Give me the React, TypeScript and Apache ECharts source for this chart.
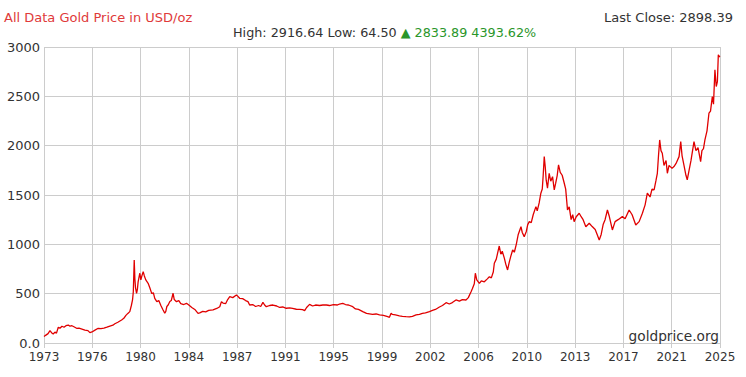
import React, { useEffect, useRef } from "react";
import * as echarts from "echarts";

const TITLE = "All Data Gold Price in USD/oz";
const LAST_CLOSE = "Last Close: 2898.39";
const STATS_PLAIN = "High: 2916.64 Low: 64.50 ";
const STATS_CHANGE = "▲ 2833.89 4393.62%";
const WATERMARK = "goldprice.org";

const X_TICK_LABELS = ["1973", "1976", "1980", "1984", "1987", "1991", "1995", "1999", "2002", "2006", "2010", "2013", "2017", "2021", "2025"];
const X_MIN = 1973;
const X_MAX = 2025;
const Y_MAX = 3000;
const Y_STEP = 500;

const YEARS = [
  1973.0, 1973.15, 1973.31, 1973.46, 1973.58, 1973.71, 1973.84, 1973.96, 1974.1, 1974.23,
  1974.38, 1974.54, 1974.69, 1974.87, 1975.0, 1975.15, 1975.3, 1975.51, 1975.69, 1975.92,
  1976.15, 1976.38, 1976.53, 1976.69, 1976.92, 1977.17, 1977.38, 1977.61, 1977.84, 1978.07,
  1978.3, 1978.45, 1978.68, 1978.97, 1979.14, 1979.3, 1979.45, 1979.6, 1979.72, 1979.81,
  1979.87, 1979.94, 1979.99, 1980.04, 1980.12, 1980.18, 1980.24, 1980.3, 1980.37, 1980.45,
  1980.53, 1980.63, 1980.72, 1980.83, 1981.01, 1981.14, 1981.29, 1981.41, 1981.52, 1981.68,
  1981.83, 1981.99, 1982.14, 1982.29, 1982.37, 1982.45, 1982.55, 1982.68, 1982.79, 1982.93,
  1983.02, 1983.19, 1983.37, 1983.52, 1983.75, 1983.96, 1984.14, 1984.37, 1984.6, 1984.85,
  1984.98, 1985.21, 1985.44, 1985.67, 1986.0, 1986.29, 1986.52, 1986.65, 1986.77, 1986.98,
  1987.13, 1987.29, 1987.52, 1987.8, 1987.9, 1988.05, 1988.28, 1988.51, 1988.69, 1988.82,
  1989.05, 1989.28, 1989.51, 1989.67, 1989.84, 1989.97, 1990.1, 1990.36, 1990.61, 1990.9,
  1991.13, 1991.36, 1991.64, 1991.89, 1992.12, 1992.41, 1992.66, 1992.89, 1993.05, 1993.2,
  1993.43, 1993.66, 1993.89, 1994.2, 1994.45, 1994.73, 1994.96, 1995.27, 1995.57, 1995.73,
  1995.98, 1996.19, 1996.42, 1996.75, 1996.96, 1997.19, 1997.52, 1997.81, 1998.04, 1998.27,
  1998.55, 1998.81, 1999.11, 1999.44, 1999.57, 1999.7, 1999.8, 2000.03, 2000.34, 2000.57,
  2000.85, 2001.11, 2001.34, 2001.62, 2001.88, 2002.11, 2002.34, 2002.65, 2002.88, 2003.11,
  2003.42, 2003.65, 2003.93, 2004.18, 2004.41, 2004.69, 2004.95, 2005.18, 2005.46, 2005.64,
  2005.85, 2005.95, 2006.1, 2006.18, 2006.29, 2006.49, 2006.64, 2006.87, 2007.1, 2007.26,
  2007.41, 2007.56, 2007.64, 2007.79, 2007.91, 2008.02, 2008.14, 2008.25, 2008.41, 2008.52,
  2008.66, 2008.79, 2008.91, 2009.05, 2009.18, 2009.33, 2009.48, 2009.69, 2009.79, 2009.94,
  2010.1, 2010.21, 2010.33, 2010.48, 2010.63, 2010.84, 2010.94, 2011.09, 2011.22, 2011.33,
  2011.4, 2011.48, 2011.56, 2011.63, 2011.73, 2011.86, 2011.98, 2012.12, 2012.25, 2012.36,
  2012.48, 2012.58, 2012.71, 2012.86, 2013.02, 2013.13, 2013.27, 2013.4, 2013.55, 2013.67,
  2013.78, 2013.94, 2014.17, 2014.32, 2014.47, 2014.68, 2014.94, 2015.17, 2015.4, 2015.55,
  2015.71, 2015.86, 2016.01, 2016.16, 2016.34, 2016.47, 2016.72, 2016.93, 2017.16, 2017.49,
  2017.7, 2018.01, 2018.24, 2018.52, 2018.78, 2019.03, 2019.24, 2019.41, 2019.62, 2019.77,
  2019.93, 2020.08, 2020.18, 2020.27, 2020.36, 2020.46, 2020.56, 2020.69, 2020.85, 2020.95,
  2021.08, 2021.31, 2021.46, 2021.62, 2021.85, 2021.98, 2022.08, 2022.23, 2022.38, 2022.48,
  2022.62, 2022.77, 2023.0, 2023.15, 2023.31, 2023.51, 2023.61, 2023.73, 2023.84, 2024.0,
  2024.15, 2024.27, 2024.41, 2024.5, 2024.61, 2024.71, 2024.8, 2024.87, 2024.99
];

const PRICES = [
  65, 80, 95, 125, 105, 91, 110, 100, 159, 150,
  170, 160, 175, 182, 170, 175, 165, 149, 150, 140,
  130, 125, 105, 112, 130, 149, 145, 150, 160, 172,
  180, 195, 210, 233, 250, 280, 300, 318, 380, 436,
  520, 842, 650, 560, 504, 540, 620, 660, 707, 640,
  680, 723, 680, 640, 605, 560, 500, 510, 453, 420,
  430, 380, 340, 301, 320, 370, 385, 420, 430, 504,
  440, 419, 430, 400, 390, 402, 385, 360, 340, 301,
  305, 320, 315, 330, 335, 350, 368, 419, 405, 400,
  440, 470, 460, 487, 475, 453, 450, 430, 419, 385,
  390, 370, 380, 370, 412, 385, 368, 380, 385, 375,
  360, 365, 352, 355, 350, 342, 340, 338, 328, 360,
  392, 375, 385, 380, 385, 385, 380, 390, 385, 395,
  402, 390, 385, 368, 345, 340, 318, 300, 295, 290,
  294, 285, 280, 267, 260, 301, 290, 285, 275, 270,
  267, 265, 270, 284, 290, 300, 305, 318, 330, 340,
  365, 380, 409, 395, 410, 436, 425, 440, 436, 460,
  520, 550, 600, 707, 640, 605, 630, 620, 650, 672,
  660, 720, 808, 850, 920, 983, 900, 930, 860, 800,
  740, 820, 880, 943, 920, 1000, 1100, 1179, 1120, 1078,
  1130, 1200, 1230, 1220, 1300, 1382, 1340, 1420, 1518, 1560,
  1700, 1889, 1780, 1650, 1569, 1720, 1640, 1686, 1551, 1620,
  1700, 1805, 1730, 1700, 1619, 1560, 1348, 1380, 1250, 1300,
  1230, 1280, 1315, 1280, 1250, 1179, 1214, 1180, 1150, 1100,
  1044, 1100, 1200, 1250, 1348, 1290, 1146, 1230, 1250, 1281,
  1260, 1348, 1300, 1196, 1230, 1315, 1400, 1518, 1480, 1560,
  1551, 1650, 1720, 1900, 2058, 1950, 1923, 1800, 1850, 1720,
  1800, 1770, 1788, 1820, 1889, 2041, 1900, 1800, 1700, 1653,
  1750, 1850, 2041, 1950, 1980, 1838, 1950, 1970, 2058, 2150,
  2329, 2350, 2498, 2420, 2768, 2599, 2650, 2920, 2898
];

const FONT = "'DejaVu Sans', Verdana, sans-serif";

export default function App() {
  const ref = useRef<HTMLDivElement>(null);

  useEffect(() => {
    document.body.style.margin = "0";
    if (!ref.current) return;
    const chart = echarts.init(ref.current, null, { renderer: "svg" });
    const step = (X_MAX - X_MIN) / (X_TICK_LABELS.length - 1);
    const tickValues = X_TICK_LABELS.map((_, i) => X_MIN + i * step);
    const data = YEARS.map((y, i) => [y, PRICES[i]]);

    chart.setOption({
      animation: false,
      backgroundColor: "#ffffff",
      textStyle: { fontFamily: FONT },
      grid: { left: 44, right: 26, top: 47, bottom: 34, containLabel: false },
      xAxis: {
        type: "value",
        min: X_MIN,
        max: X_MAX,
        axisLine: { show: false },
        axisTick: {
          show: true,
          length: 5,
          customValues: tickValues,
          lineStyle: { color: "#cccccc", width: 1 },
        },
        axisLabel: {
          customValues: tickValues,
          margin: 8,
          color: "#333333",
          fontSize: 12,
          fontFamily: FONT,
          formatter: (v: number) => X_TICK_LABELS[Math.round((v - X_MIN) / step)] ?? "",
        },
        splitLine: { show: true, lineStyle: { color: "#cccccc", width: 1 } },
      },
      yAxis: {
        type: "value",
        min: 0,
        max: Y_MAX,
        interval: Y_STEP,
        axisLine: { show: false },
        axisTick: { show: false },
        axisLabel: {
          margin: 4,
          color: "#333333",
          fontSize: 13,
          fontFamily: FONT,
          formatter: (v: number) => (v === 0 ? "0.0" : String(v)),
        },
        splitLine: { show: true, lineStyle: { color: "#cccccc", width: 1 } },
      },
      series: [
        {
          type: "line",
          data,
          showSymbol: false,
          symbol: "none",
          lineStyle: { color: "#e00000", width: 1.3 },
          z: 3,
        },
      ],
      graphic: [
        {
          type: "text",
          left: 4,
          top: 11,
          style: { text: TITLE, fill: "#e03a3a", font: `13px ${FONT}` },
        },
        {
          type: "text",
          right: 13,
          top: 11,
          style: { text: LAST_CLOSE, fill: "#333333", font: `13px ${FONT}` },
        },
        {
          type: "text",
          left: 233,
          top: 26,
          style: {
            text: `{a|${STATS_PLAIN}}{g|${STATS_CHANGE}}`,
            rich: {
              a: { fill: "#333333", fontSize: 12.75, fontFamily: FONT },
              g: { fill: "#2a962a", fontSize: 12.75, fontFamily: FONT },
            },
          },
        },
        {
          type: "text",
          right: 27,
          top: 329,
          z: 10,
          style: { text: WATERMARK, fill: "#333333", font: `13.7px ${FONT}` },
        },
      ],
    });
    return () => chart.dispose();
  }, []);

  return <div ref={ref} style={{ position: "fixed", left: 0, top: 0, width: 746, height: 377 }} />;
}
